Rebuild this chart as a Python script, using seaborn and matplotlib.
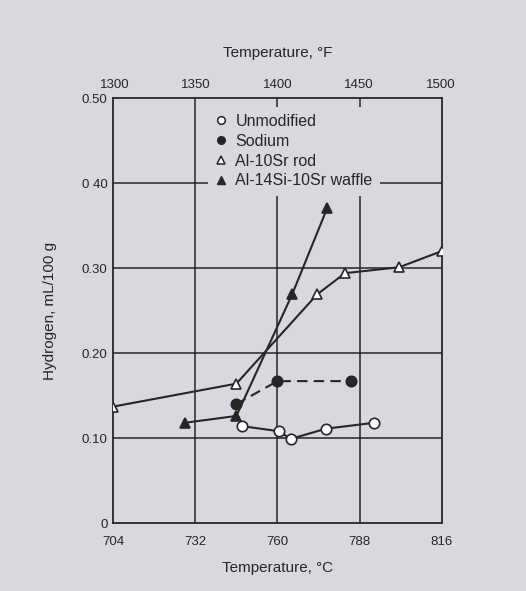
import numpy as np
import pandas as pd
import matplotlib
matplotlib.use("Agg")
import matplotlib.pyplot as plt
import seaborn as sns
from matplotlib.lines import Line2D

# ---- data (temperature in degC, hydrogen in mL/100 g) ----
unmod_t = [748, 760.5, 764.5, 776.5, 793]
unmod_h = [0.114, 0.108, 0.099, 0.111, 0.118]

sodium_t = [746, 760, 785]
sodium_h = [0.140, 0.167, 0.167]

rod_t = [704, 746, 773.5, 783, 801.5, 816]
rod_h = [0.137, 0.164, 0.269, 0.294, 0.301, 0.320]

waffle_t = [728.5, 746, 765, 777]
waffle_h = [0.118, 0.126, 0.269, 0.371]

c_ticks = [704, 732, 760, 788, 816]
f_ticks = [1300, 1350, 1400, 1450, 1500]
h_ticks = [0, 0.10, 0.20, 0.30, 0.40, 0.50]
h_labels = ["0", "0.10", "0.20", "0.30", "0 40", "0.50"]

BG = "#d8d8df"
INK = "#262626"

sns.set_style("white")
plt.rcParams["font.family"] = ["Liberation Sans", "DejaVu Sans"]

fig = plt.figure(figsize=(5.26, 5.91), dpi=100, facecolor=BG)
ax = fig.add_axes([0.215, 0.115, 0.625, 0.719])
ax.set_facecolor(BG)

# grid lines (drawn below the data and legend)
for v in c_ticks[1:-1]:
    ax.axvline(v, color=INK, lw=1.1, zorder=1)
for v in h_ticks[1:-1]:
    ax.axhline(v, color=INK, lw=1.1, zorder=1)

kw = dict(ax=ax, color=INK, linewidth=1.5, markersize=7.5, markeredgecolor=INK,
          markeredgewidth=1.2, zorder=3)
sns.lineplot(x=unmod_t, y=unmod_h, marker="o", markerfacecolor="white", **kw)
sns.lineplot(x=sodium_t, y=sodium_h, marker="o", markerfacecolor=INK, linestyle=(0, (5, 3)), **kw)
sns.lineplot(x=rod_t, y=rod_h, marker="^", markerfacecolor="white", **kw)
sns.lineplot(x=waffle_t, y=waffle_h, marker="^", markerfacecolor=INK, **kw)

ax.set_xlim(704, 816)
ax.set_ylim(0, 0.50)
ax.set_xticks(c_ticks)
ax.set_yticks(h_ticks)
ax.set_yticklabels(h_labels)
ax.tick_params(axis="x", length=0, labelsize=9.5, colors=INK, pad=9)
ax.tick_params(axis="y", length=0, labelsize=9.5, colors=INK, pad=4)
for s in ax.spines.values():
    s.set_color(INK)
    s.set_linewidth(1.3)

ax.set_xlabel("Temperature, \u00b0C", fontsize=11, color=INK, labelpad=10)
ax.set_ylabel("Hydrogen, mL/100 g", fontsize=11, color=INK, labelpad=18)

# secondary Fahrenheit axis on top
top = ax.secondary_xaxis("top", functions=(lambda c: c * 9 / 5 + 32, lambda f: (f - 32) * 5 / 9))
top.set_xticks(f_ticks)
top.tick_params(length=0, labelsize=9.5, colors=INK, pad=5)
top.set_xlabel("Temperature, \u00b0F", fontsize=11, color=INK, labelpad=16)
top.spines["top"].set_visible(False)

handles = [
    Line2D([], [], ls="none", marker="o", mfc="white", mec=INK, ms=5.5, mew=1.1),
    Line2D([], [], ls="none", marker="o", mfc=INK, mec=INK, ms=5.5),
    Line2D([], [], ls="none", marker="^", mfc="white", mec=INK, ms=5.5, mew=1.1),
    Line2D([], [], ls="none", marker="^", mfc=INK, mec=INK, ms=5.5),
]
labels = ["Unmodified", "Sodium", "Al-10Sr rod", "Al-14Si-10Sr waffle"]
leg = ax.legend(handles, labels, loc="upper left", bbox_to_anchor=(0.28, 0.985),
                frameon=True, fontsize=11.5, handlelength=0.8, handletextpad=0.5,
                labelspacing=0.3, borderpad=0.45, borderaxespad=0.15)
leg.get_frame().set_facecolor(BG)
leg.get_frame().set_edgecolor("none")
leg.get_frame().set_alpha(1)
leg.set_zorder(2)

fig.savefig("out.png", dpi=100, facecolor=BG)
